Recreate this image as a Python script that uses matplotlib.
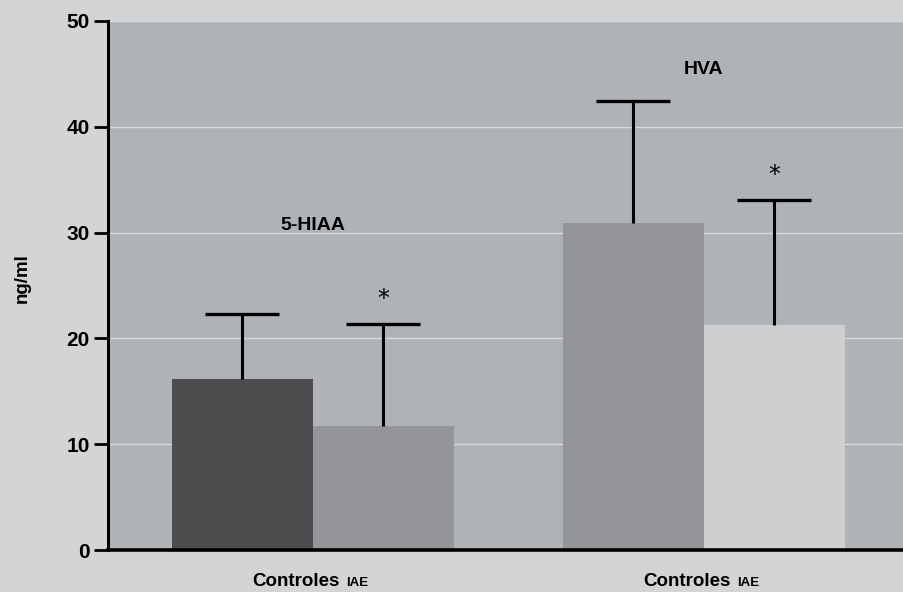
import matplotlib
matplotlib.use("Agg")
import matplotlib.pyplot as plt
import numpy as np

groups = ["5-HIAA", "HVA"]
controles = [16.2, 30.9]
iae = [11.7, 21.3]
err_controles = [6.1, 11.5]
err_iae = [9.7, 11.8]
sig_iae = ["*", "*"]
yticks = [0, 10, 20, 30, 40, 50]
bar_colors_controles = ["#4d4d4f", "#949598"]
bar_colors_iae = ["#949598", "#cecfd1"]

plt.rcParams['font.family'] = ['Liberation Sans', 'DejaVu Sans']

fig = plt.figure(figsize=(9.04, 5.92), dpi=100)
fig.patch.set_facecolor("#d3d4d6")
ax = fig.add_axes([108/904, 42/592, 1 - 108/904, (550-21)/592])
ax.set_facecolor("#b0b3b6")

x = np.arange(len(groups))
w = 0.3606
xc = x - w/2
xi = x + w/2
ax.bar(xc, controles, width=w, color=bar_colors_controles, zorder=2)
ax.bar(xi, iae, width=w, color=bar_colors_iae, zorder=2)

for xs, vals, errs in [(xc, controles, err_controles), (xi, iae, err_iae)]:
    vals = np.asarray(vals)
    errs = np.asarray(errs)
    ax.errorbar(xs, vals, yerr=[np.zeros(len(vals)), errs], fmt='none',
                ecolor='black', elinewidth=2.2, capsize=0, zorder=3)
    ax.plot(xs, vals + errs, linestyle='none', marker='_', markersize=53,
            markeredgewidth=2.4, color='black', zorder=3)

for xx, v, e, s in zip(xi, iae, err_iae, sig_iae):
    ax.text(xx, v + e + 1.2, s, ha='center', va='bottom', fontsize=17, family='DejaVu Sans')

ax.text(x[0], 29.9, groups[0], ha='center', va='bottom', fontsize=14, fontweight='bold')
ax.text(x[1], 44.6, groups[1], ha='center', va='bottom', fontsize=14, fontweight='bold')

ax.set_ylim(0, 50)
ax.set_xlim(-0.524, 1.512)
ax.set_yticks(yticks)
ax.set_yticklabels([str(t) for t in yticks], fontsize=15, fontweight='bold')
ax.tick_params(axis='y', length=10, width=2, direction='out', pad=3)
ax.set_xticks([])
ax.yaxis.grid(True, color="#d8d9db", linewidth=1.0, zorder=1)
ax.set_axisbelow(True)
for sp in ['top', 'right']:
    ax.spines[sp].set_visible(False)
ax.spines['left'].set_linewidth(2.2)
ax.spines['bottom'].set_linewidth(2.6)

for xx in x:
    ax.annotate("Controles", xy=(xx, 0), xycoords=('data', 'axes fraction'),
                xytext=(19, -23), textcoords='offset points', ha='right', va='center',
                fontsize=13.5, fontweight='bold')
    ax.annotate("IAE", xy=(xx, 0), xycoords=('data', 'axes fraction'),
                xytext=(24, -24), textcoords='offset points', ha='left', va='center',
                fontsize=9.5, fontweight='bold')

fig.text(22/904, 1 - 278/592, "ng/ml", rotation=90, ha='center', va='center',
         fontsize=13.5, fontweight='bold')

fig.savefig("out.png", dpi=100, facecolor=fig.get_facecolor())
